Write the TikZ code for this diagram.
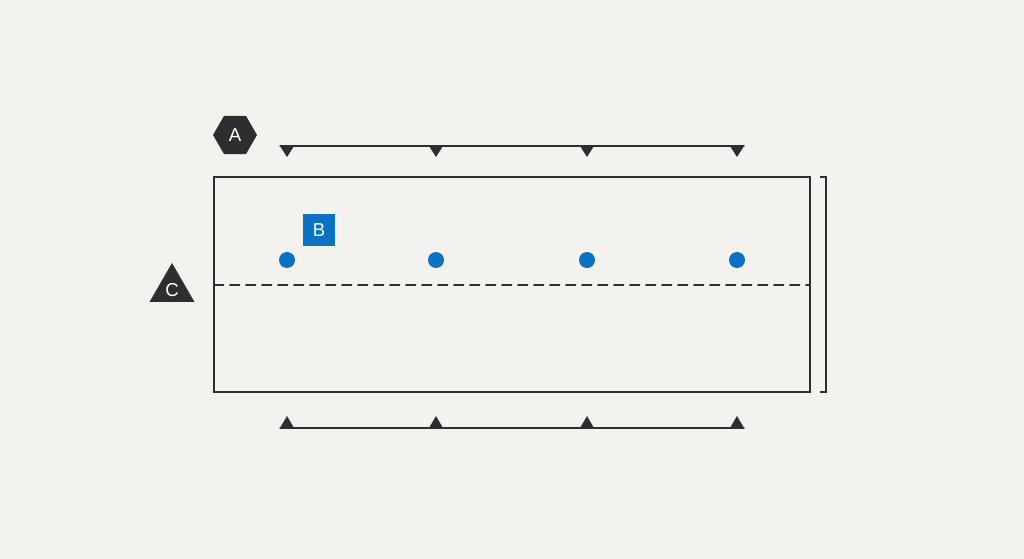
\documentclass[tikz,border=0pt]{standalone}
\usepackage{fontspec}
\setmainfont{Liberation Sans}
\usetikzlibrary{shapes.geometric}
\definecolor{paper}{HTML}{F3F2EE}
\definecolor{ink}{HTML}{2E2E2E}
\definecolor{pin}{HTML}{0B72C4}

\begin{document}
\begin{tikzpicture}[x=0.75pt,y=-0.75pt,cap=round,
	every node/.style={font=\fontsize{14}{16}\selectfont,text=white},
	mark down/.style={fill=ink,draw=none},
	dot/.style={circle,fill=pin,inner sep=0pt,minimum size=12pt}]
	\fill[paper] (0,0) rectangle (1024,559);
	\useasboundingbox (0,0) rectangle (1024,559);
	% the box and its centre line
	\draw[ink,line width=1.7pt,line cap=butt] (214,177) rectangle (810,392);
	\draw[ink,line width=1.5pt,dashed,dash pattern=on 7pt off 5pt] (214,285) -- (810,285);
	% bracket on the right
	\draw[ink,line width=1pt,line cap=butt] (820,177) -- (826,177) -- (826,392) -- (820,392);
	% top and bottom rails
	\coordinate (t0) at (280,146);
	\coordinate (t1) at (744,146);
	\coordinate (b0) at (280,428);
	\coordinate (b1) at (744,428);
	\draw[ink,line width=1pt] (t0) -- (t1);
	\draw[ink,line width=1pt] (b0) -- (b1);
	\foreach \x/\i in {287/1,436/2,587/3,737/4}{
		\fill[mark down,ink] (\x-7,146) -- (\x+7,146) -- (\x,157) -- cycle;
		\fill[mark down,ink] (\x-7,428) -- (\x+7,428) -- (\x,416) -- cycle;
		\node[dot] (d\i) at (\x,260) {};
	}
	% labels
	\node[regular polygon,regular polygon sides=6,fill=ink,minimum size=33pt,inner sep=0pt] (A) at (235,135) {A};
	\node[rectangle,fill=pin,minimum size=24pt,inner sep=0pt] (B) at (319,230) {B};
	\node[regular polygon,regular polygon sides=3,fill=ink,minimum size=39pt,inner sep=0pt] (C) at (172,289) {};
	\node at (172,290) {C};
\end{tikzpicture}
\end{document}
